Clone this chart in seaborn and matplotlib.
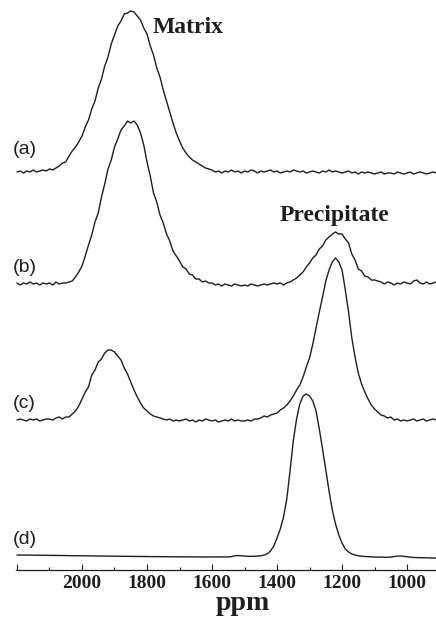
import numpy as np
import pandas as pd
import seaborn as sns
import matplotlib.pyplot as plt

# chemical shift grid (ppm), 10 ppm steps
ppm = np.arange(2200, 905, -10)

# signal heights above each trace's own baseline
spec_a = [0, 1, -1, 1, 0, 2, 0, 1, 2, 1,
          3, 2, 4, 6, 9, 10, 16, 21, 25, 30,
          36, 45, 52, 63, 71, 84, 93, 106, 115, 128,
          137, 146, 151, 158, 159, 161, 160, 156, 152, 144,
          138, 126, 117, 104, 95, 82, 71, 60, 49, 39,
          31, 24, 19, 15, 12, 10, 8, 6, 4, 3,
          2, 0, 1, -1, 1, 0, 2, 0, 1, -1,
          1, 0, 2, 1, -1, 1, 0, 1, 2, 0,
          1, -1, 0, 1, 0, 2, 1, 0, 1, -1,
          0, 1, 0, -1, 1, 0, 2, 0, 1, 0,
          -1, 0, 1, -1, 0, -2, 0, -1, 0, -1,
          -2, -1, 0, -2, -1, -1, -2, 0, -1, -2,
          -1, 0, -2, -1, 0, -1, -2, -1, 0, -1]

spec_b = [1, -1, 1, 0, 2, 0, 1, -1, 1, 0,
          1, -1, 2, 0, 1, 1, 2, 3, 7, 12,
          18, 28, 39, 49, 62, 71, 87, 100, 115, 124,
          137, 145, 154, 158, 163, 161, 163, 159, 151, 139,
          122, 108, 91, 82, 69, 61, 50, 43, 33, 28,
          23, 17, 15, 10, 9, 5, 5, 2, 3, 1,
          1, -1, 0, -2, 0, -1, -2, 0, -1, -2,
          -1, -2, 0, -1, -2, -1, 0, -1, 0, 1,
          0, 1, -1, 1, 2, 4, 6, 9, 12, 17,
          21, 26, 29, 35, 38, 44, 47, 50, 52, 50,
          50, 45, 41, 30, 24, 15, 13, 8, 7, 4,
          4, 3, 2, 0, 2, 1, -1, 1, 0, 2,
          1, 0, 3, 4, 1, 0, 2, 0, 1, 2]

spec_c = [0, 1, 0, -1, 1, 0, 1, -1, 0, 1,
          1, 0, 2, 3, 1, 3, 3, 6, 9, 14,
          21, 28, 33, 45, 50, 58, 61, 67, 70, 70,
          68, 64, 60, 52, 46, 38, 30, 23, 17, 12,
          9, 6, 4, 3, 2, 1, 0, 1, -1, 0,
          -1, 0, 1, -1, 0, -2, 0, -1, 1, 0,
          -1, 0, -2, -1, 0, -1, 1, -1, 0, -1,
          -1, 0, -1, 1, 1, 2, 4, 3, 5, 6,
          7, 10, 12, 15, 19, 24, 30, 35, 43, 53,
          62, 76, 92, 108, 123, 139, 150, 158, 162, 158,
          150, 130, 108, 82, 63, 47, 36, 28, 21, 15,
          11, 8, 5, 4, 2, 3, 0, 1, -1, 0,
          -1, 0, 1, -1, 0, 1, -1, 0, 1, 0]

spec_d = [2.0, 2.0, 2.0, 1.9, 1.9, 1.8, 1.8, 1.8, 1.7, 1.7,
          1.6, 1.6, 1.6, 1.5, 1.5, 1.4, 1.4, 1.3, 1.3, 1.3,
          1.2, 1.2, 1.1, 1.1, 1.0, 1.0, 1.0, 0.9, 0.9, 0.8,
          0.8, 0.8, 0.7, 0.7, 0.6, 0.6, 0.6, 0.5, 0.5, 0.5,
          0.4, 0.4, 0.4, 0.3, 0.3, 0.3, 0.3, 0.2, 0.2, 0.2,
          0.2, 0.1, 0.1, 0.1, 0.1, 0.1, 0.0, 0.0, 0.0, 0.0,
          0.0, 0.0, 0.0, 0.0, 0.0, 0.1, 0.4, 1.2, 1.5, 1.2,
          0.8, 0.7, 0.6, 0.7, 0.9, 1.2, 1.9, 3.2, 6.0, 11.0,
          19, 28, 40, 58, 86, 116, 138, 153, 161, 163,
          161, 156, 146, 128, 108, 87, 66, 47, 33, 22,
          14, 8, 5, 3, 2, 1.2, 0.8, 0.5, 0.3, 0.2,
          0.0, -0.1, -0.2, -0.3, -0.3, -0.1, 0.4, 0.9, 1.0, 0.6,
          0.1, -0.3, -0.5, -0.6, -0.7, -0.8, -0.9, -1.0, -1.0, -1.1]

trace_names = ['(a)', '(b)', '(c)', '(d)']
spectra = [spec_a, spec_b, spec_c, spec_d]

major_ticks = [2200, 2000, 1800, 1600, 1400, 1200, 1000]
major_labels = ['', '2000', '1800', '1600', '1400', '1200', '1000']
minor_ticks = [2100, 1900, 1700, 1500, 1300, 1100]

# stacking offsets and label heights (layout)
offsets = [398, 286, 150, 13]
label_y = [420, 303, 167, 31]

df = pd.concat([pd.DataFrame({'ppm': ppm, 'signal': np.array(s) + off, 'trace': name})
                for s, off, name in zip(spectra, offsets, trace_names)])

sns.set_style('white')
ink = '#1e1e1e'

fig = plt.figure(figsize=(4.36, 6.23), dpi=100)
ax = fig.add_axes([16 / 436, 53 / 623, 420 / 436, 570 / 623])

sns.lineplot(data=df, x='ppm', y='signal', units='trace', estimator=None,
             sort=False, color=ink, lw=1.0, ax=ax)

ax.set_xlim(2203, 911)
ax.set_ylim(0, 570)

for side in ['top', 'left', 'right']:
    ax.spines[side].set_visible(False)
ax.spines['bottom'].set_color(ink)
ax.spines['bottom'].set_linewidth(0.9)

ax.set_yticks([])
ax.set_ylabel('')
ax.set_xticks(major_ticks)
ax.set_xticklabels(major_labels, fontfamily='Liberation Serif',
                   fontweight='bold', fontsize=14, color=ink)
ax.set_xticks(minor_ticks, minor=True)
ax.tick_params(axis='x', which='major', direction='in', length=4,
               width=0.8, color=ink, pad=3.5, bottom=True)
ax.tick_params(axis='x', which='minor', direction='in', length=2.5,
               width=0.8, color=ink, bottom=True)

ax.set_xlabel('ppm', fontfamily='Liberation Serif', fontweight='bold',
              fontsize=20, color=ink)
ax.xaxis.set_label_coords(0.54, -0.037)

for name, y in zip(trace_names, label_y):
    ax.text(2212, y, name, ha='left', va='center', fontsize=14,
            fontfamily='Liberation Sans', color=ink)

ax.text(1782, 537, 'Matrix', ha='left', va='baseline', fontsize=17,
        fontfamily='Liberation Serif', fontweight='bold', color=ink)
ax.text(1391, 349, 'Precipitate', ha='left', va='baseline', fontsize=17,
        fontfamily='Liberation Serif', fontweight='bold', color=ink)

fig.savefig('out.png', dpi=100)
